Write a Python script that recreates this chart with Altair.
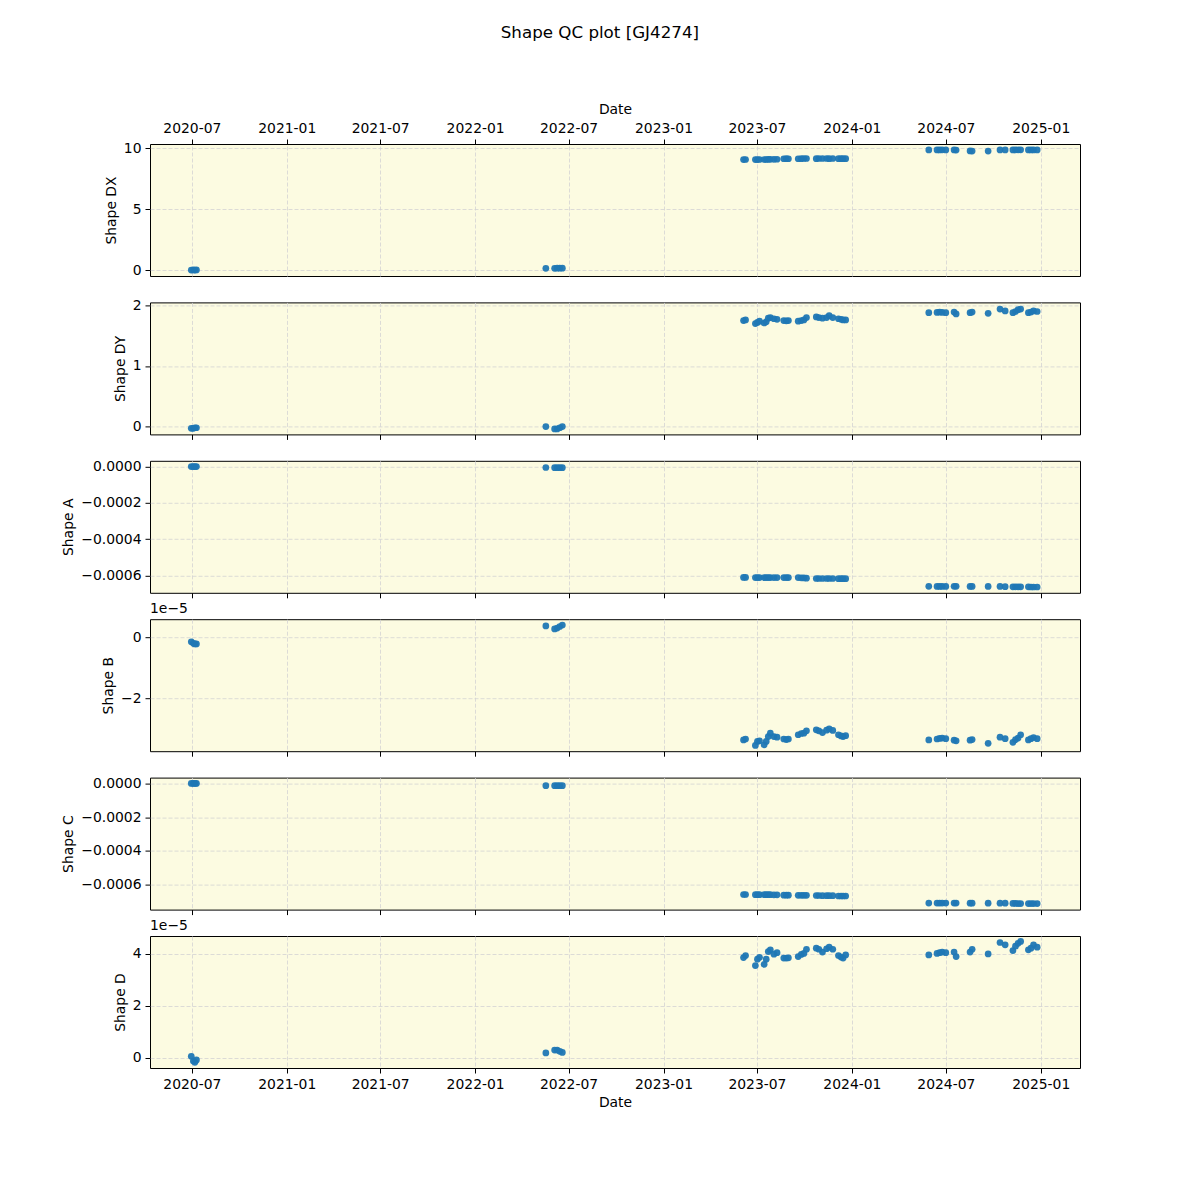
import altair as alt
import pandas as pd

title_text = "Shape QC plot [GJ4274]"

obs_dates = [
    "2020-06-30", "2020-07-04", "2020-07-07", "2020-07-10",
    "2022-05-18", "2022-06-04", "2022-06-09", "2022-06-14", "2022-06-19",
    "2023-06-05", "2023-06-09", "2023-06-28", "2023-07-02", "2023-07-06",
    "2023-07-15", "2023-07-19", "2023-07-23", "2023-07-27", "2023-08-03",
    "2023-08-09", "2023-08-22", "2023-08-27", "2023-08-31", "2023-09-19",
    "2023-09-25", "2023-09-30", "2023-10-05", "2023-10-24", "2023-10-29",
    "2023-11-05", "2023-11-13", "2023-11-18", "2023-11-25", "2023-12-06",
    "2023-12-11", "2023-12-15", "2023-12-20",
    "2024-05-29", "2024-06-14", "2024-06-19", "2024-06-24", "2024-07-01",
    "2024-07-17", "2024-07-21", "2024-08-17", "2024-08-21", "2024-09-21",
    "2024-10-14", "2024-10-24", "2024-11-08", "2024-11-13", "2024-11-18",
    "2024-11-23", "2024-12-08", "2024-12-13", "2024-12-18", "2024-12-25",
]

shape_dx = [
    0.00, 0.01, 0.00, 0.01,
    0.14, 0.14, 0.15, 0.15, 0.15,
    9.05, 9.06, 9.05, 9.05, 9.06, 9.06, 9.06, 9.07, 9.07, 9.07,
    9.08, 9.12, 9.13, 9.12, 9.12, 9.13, 9.14, 9.14, 9.13, 9.14,
    9.14, 9.14, 9.13, 9.14, 9.13, 9.13, 9.13, 9.13,
    9.84, 9.84, 9.84, 9.85, 9.84, 9.84, 9.83, 9.76, 9.75, 9.75,
    9.84, 9.84, 9.84, 9.84, 9.85, 9.85, 9.84, 9.84, 9.84, 9.84,
]

shape_dy = [
    -0.03, -0.03, -0.02, -0.02,
    0.00, -0.04, -0.04, -0.02, 0.00,
    1.75, 1.76, 1.70, 1.72, 1.74, 1.71, 1.73, 1.79, 1.80, 1.78,
    1.77, 1.75, 1.745, 1.75, 1.74, 1.75, 1.76, 1.80, 1.81, 1.80,
    1.79, 1.80, 1.83, 1.80, 1.78, 1.77, 1.76, 1.76,
    1.88, 1.885, 1.89, 1.885, 1.88, 1.89, 1.86, 1.88, 1.89, 1.87,
    1.94, 1.91, 1.88, 1.90, 1.93, 1.94, 1.88, 1.89, 1.91, 1.90,
]

shape_a = [
    0.000001, 0.000001, 0.000001, 0.000001,
    -0.000004, -0.000005, -0.000005, -0.000005, -0.000005,
    -0.000611, -0.000611, -0.000612, -0.000612, -0.000612, -0.000612,
    -0.000612, -0.000612, -0.000612, -0.000612, -0.000612, -0.000612,
    -0.000612, -0.000612, -0.000612, -0.000613, -0.000614, -0.000615,
    -0.000617, -0.000617, -0.000617, -0.000617, -0.000617, -0.000617,
    -0.000618, -0.000618, -0.000618, -0.000618,
    -0.000660, -0.000661, -0.000661, -0.000661, -0.000661, -0.000660,
    -0.000660, -0.000661, -0.000661, -0.000661, -0.000661, -0.000662,
    -0.000663, -0.000663, -0.000663, -0.000663, -0.000663, -0.000664,
    -0.000664, -0.000664,
]

# Shape B in units of 1e-5
shape_b_e5 = [
    -0.15, -0.20, -0.22, -0.22,
    0.37, 0.27, 0.30, 0.35, 0.40,
    -3.37, -3.34, -3.55, -3.42, -3.40, -3.53, -3.42, -3.26, -3.15, -3.26,
    -3.28, -3.34, -3.36, -3.34, -3.20, -3.16, -3.15, -3.07, -3.04, -3.07,
    -3.13, -3.05, -3.01, -3.06, -3.20, -3.24, -3.26, -3.23,
    -3.37, -3.34, -3.32, -3.31, -3.33, -3.38, -3.40, -3.38, -3.36, -3.48,
    -3.28, -3.33, -3.45, -3.36, -3.31, -3.20, -3.37, -3.33, -3.29, -3.33,
]

shape_c = [
    0.000001, 0.000001, 0.000001, 0.000001,
    -0.000012, -0.000012, -0.000012, -0.000012, -0.000012,
    -0.000661, -0.000661, -0.000662, -0.000662, -0.000662, -0.000662,
    -0.000662, -0.000662, -0.000662, -0.000663, -0.000663, -0.000665,
    -0.000665, -0.000665, -0.000666, -0.000666, -0.000666, -0.000666,
    -0.000667, -0.000667, -0.000668, -0.000668, -0.000668, -0.000668,
    -0.000670, -0.000670, -0.000670, -0.000670,
    -0.000712, -0.000712, -0.000712, -0.000712, -0.000712, -0.000712,
    -0.000712, -0.000713, -0.000713, -0.000713, -0.000713, -0.000713,
    -0.000714, -0.000714, -0.000715, -0.000715, -0.000715, -0.000715,
    -0.000715, -0.000715,
]

# Shape D in units of 1e-5
shape_d_e5 = [
    0.06, -0.12, -0.17, -0.08,
    0.19, 0.30, 0.30, 0.25, 0.21,
    3.86, 3.94, 3.55, 3.80, 3.87, 3.60, 3.80, 4.09, 4.16, 3.99,
    4.05, 3.84, 3.84, 3.85, 3.90, 3.98, 4.02, 4.18, 4.22, 4.18,
    4.07, 4.20, 4.26, 4.18, 3.94, 3.88, 3.84, 3.96,
    3.96, 4.02, 4.05, 4.07, 4.05, 4.07, 3.90, 4.07, 4.18, 4.00,
    4.44, 4.35, 4.13, 4.30, 4.41, 4.48, 4.16, 4.22, 4.35, 4.26,
]

tick_years_months = [(2020, 7), (2021, 1), (2021, 7), (2022, 1), (2022, 7),
                     (2023, 1), (2023, 7), (2024, 1), (2024, 7), (2025, 1)]

df = pd.DataFrame({
    "date": obs_dates,
    "DX": shape_dx,
    "DY": shape_dy,
    "A": shape_a,
    "B": shape_b_e5,
    "C": shape_c,
    "D": shape_d_e5,
})

x_domain = [alt.DateTime(year=2020, month=4, date=11, utc=True),
            alt.DateTime(year=2025, month=3, date=18, utc=True)]
tick_dates = [alt.DateTime(year=y, month=m, date=1, utc=True) for y, m in tick_years_months]

FONT = "DejaVu Sans"
W, H = 930, 132
DATE_LABEL = "utcFormat(datum.value, '%Y-%m')"

panels_spec = [
    ("DX", "Shape DX", [-0.49, 10.33], [0, 5, 10], ".0f", None),
    ("DY", "Shape DY", [-0.13, 2.05], [0, 1, 2], ".0f", None),
    ("A", "Shape A", [-0.000696, 0.000033], [0, -0.0002, -0.0004, -0.0006], ".4f", None),
    ("B", "Shape B", [-3.74, 0.59], [0, -2], ".0f", "1e\u22125"),
    ("C", "Shape C", [-0.000751, 0.000036], [0, -0.0002, -0.0004, -0.0006], ".4f", None),
    ("D", "Shape D", [-0.39, 4.69], [0, 2, 4], ".0f", "1e\u22125"),
]

panels = []
n = len(panels_spec)
for i, (field, ytitle, ydom, yticks, yfmt, offset_txt) in enumerate(panels_spec):
    if i == 0:
        xaxis = alt.Axis(orient="top", values=tick_dates, labelExpr=DATE_LABEL, title="Date")
    elif i == n - 1:
        xaxis = alt.Axis(orient="bottom", values=tick_dates, labelExpr=DATE_LABEL, title="Date")
    else:
        xaxis = alt.Axis(orient="bottom", values=tick_dates, labels=False, title="")
    pts = alt.Chart(df).mark_circle(size=45, color="#1f77b4", opacity=0.95).encode(
        x=alt.X("date:T", scale=alt.Scale(type="utc", domain=x_domain), axis=xaxis),
        y=alt.Y(f"{field}:Q",
                scale=alt.Scale(domain=ydom, nice=False, zero=False),
                axis=alt.Axis(values=yticks, format=yfmt, title=ytitle)),
    )
    layer = pts
    if offset_txt:
        txt = alt.Chart(pd.DataFrame({"t": [offset_txt]})).mark_text(
            align="left", baseline="bottom", font=FONT, fontSize=13.9, color="black"
        ).encode(text="t:N", x=alt.value(0), y=alt.value(-3))
        layer = alt.layer(pts, txt)
    panels.append(layer.properties(width=W, height=H))

chart = alt.vconcat(*panels, spacing=26.4, bounds="flush").properties(
    title=alt.TitleParams(text=title_text, font=FONT, fontSize=16.7,
                          fontWeight="normal", color="black", anchor="middle",
                          offset=60, dx=29),
    padding={"top": 24, "left": 61, "right": 20, "bottom": 20},
).configure_axis(
    labelFont=FONT, labelFontSize=13.9, labelColor="black",
    titleFont=FONT, titleFontSize=13.9, titleFontWeight="normal", titleColor="black",
    tickColor="black", tickSize=5, tickWidth=1, labelPadding=4, titlePadding=5,
    domain=False, grid=True, gridColor="#d3d3d3", gridDash=[4, 2], gridWidth=0.8,
).configure_view(
    fill="#fcfbe1", stroke="black", strokeWidth=1,
)

chart.save("out.html", embed_options={"renderer": "svg", "actions": False})
